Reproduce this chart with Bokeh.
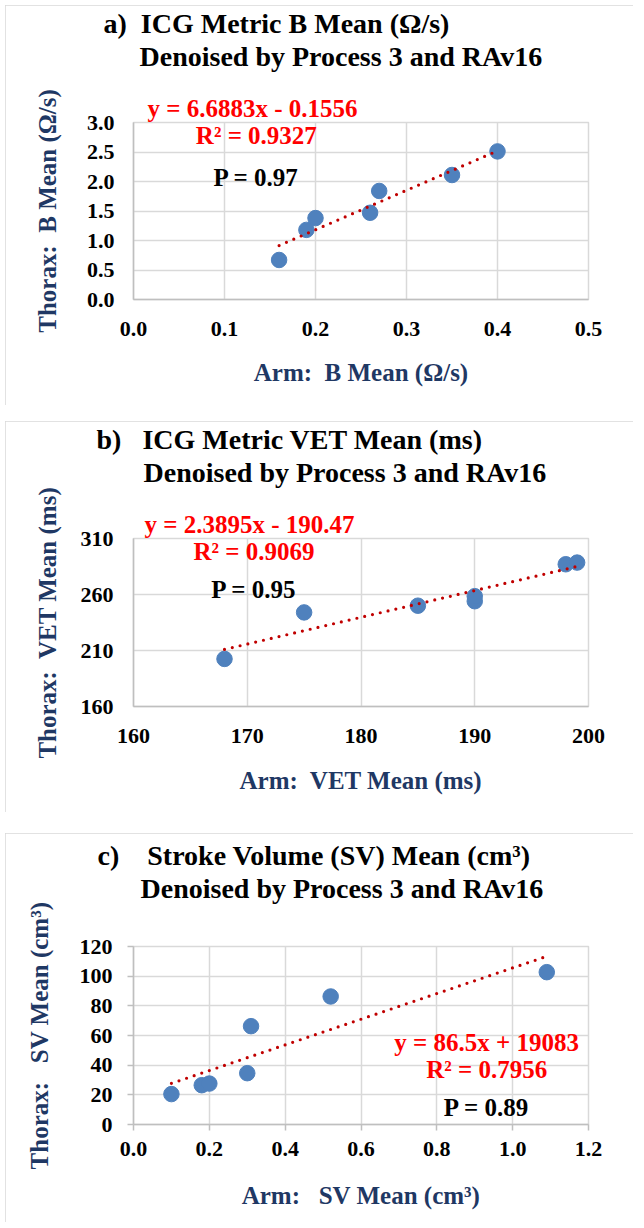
from bokeh.plotting import figure
from bokeh.models import (FixedTicker, PrintfTickFormatter, Label, Title, Range1d)
from bokeh.layouts import column
from bokeh.embed import file_html
from bokeh.resources import INLINE

FONT = "Liberation Serif"
NAVY = "#1F3864"
BLUE = "#4F81BD"
TREND = "#C00000"
GRID = "#D9D9D9"
NB = "\u00a0"

# ---------------- data ----------------
# a) ICG Metric B Mean
a_arm = [0.16, 0.19, 0.20, 0.26, 0.27, 0.35, 0.40]
a_thorax = [0.67, 1.18, 1.38, 1.47, 1.84, 2.11, 2.51]
a_xticks = [0.0, 0.1, 0.2, 0.3, 0.4, 0.5]
a_yticks = [0.0, 0.5, 1.0, 1.5, 2.0, 2.5, 3.0]
a_slope = 6.6883
a_intercept = -0.1556
a_texts = ["y = 6.6883x - 0.1556", "R² = 0.9327", "P = 0.97"]

# b) ICG Metric VET Mean
b_arm = [168, 175, 185, 190, 190, 198, 199]
b_thorax = [202.5, 244, 250, 254, 258.5, 287, 288.5]
b_xticks = [160, 170, 180, 190, 200]
b_yticks = [160, 210, 260, 310]
b_slope = 2.3895
b_intercept = -190.47
b_texts = ["y = 2.3895x - 190.47", "R² = 0.9069", "P = 0.95"]

# c) Stroke Volume Mean
c_arm = [0.10, 0.18, 0.20, 0.30, 0.31, 0.52, 1.09]
c_thorax = [20.5, 26.5, 27.6, 34.6, 66.3, 86.3, 102.7]
c_xticks = [0.0, 0.2, 0.4, 0.6, 0.8, 1.0, 1.2]
c_yticks = [0, 20, 40, 60, 80, 100, 120]
c_slope = 86.5
c_intercept = 19.083
c_texts = ["y = 86.5x + 19083", "R² = 0.7956", "P = 0.89"]


def title(text, size, offset, standoff):
    return Title(text=text, align="left", offset=offset, standoff=standoff,
                 text_font=FONT, text_font_size=size, text_font_style="bold",
                 text_color="black")


def make_panel(xs, ys, xticks, yticks, slope, intercept, texts, text_pos,
               eq_in_title, eq_offset, xfmt, yfmt, titles, title_offsets,
               spacer, xlabel, ylabel, height, borders, top_margin, tick_out,
               xstand, ystand, lab_stand):
    p = figure(width=628, height=height, output_backend="svg",
               toolbar_location=None,
               x_range=Range1d(xticks[0], xticks[-1]),
               y_range=Range1d(yticks[0], yticks[-1]),
               min_border_top=borders[0], min_border_right=borders[1],
               min_border_bottom=borders[2], min_border_left=borders[3],
               margin=(top_margin, 0, 0, 5),
               styles={"outline": "2px solid #D9D9D9", "outline-offset": "-2px"})
    p.background_fill_color = "white"
    p.border_fill_color = "white"
    p.outline_line_color = GRID
    p.outline_line_width = 1.5

    for ax, ticks, fmt, stand in ((p.xaxis, xticks, xfmt, xstand),
                                  (p.yaxis, yticks, yfmt, ystand)):
        ax.ticker = FixedTicker(ticks=ticks)
        ax.formatter = PrintfTickFormatter(format=fmt)
        ax.axis_line_color = "#BFBFBF"
        ax.axis_line_width = 1.5
        ax.major_tick_out = tick_out
        ax.major_tick_in = 0
        ax.minor_tick_out = 0
        ax.minor_tick_in = 0
        ax.major_tick_line_color = "#BFBFBF"
        ax.major_tick_line_width = 1.5
        ax.major_label_text_font = FONT
        ax.major_label_text_font_size = "22px"
        ax.major_label_text_font_style = "bold"
        ax.major_label_text_color = "black"
        ax.major_label_standoff = stand
        ax.axis_label_text_font = FONT
        ax.axis_label_text_font_size = "25px"
        ax.axis_label_text_font_style = "bold"
        ax.axis_label_text_color = NAVY
    p.xaxis.axis_label = xlabel
    p.yaxis.axis_label = ylabel
    p.xaxis.axis_label_standoff = lab_stand[0]
    p.yaxis.axis_label_standoff = lab_stand[1]

    p.xgrid.ticker = FixedTicker(ticks=xticks)
    p.ygrid.ticker = FixedTicker(ticks=yticks)
    p.grid.grid_line_color = GRID
    p.grid.grid_line_width = 1.5

    p.scatter(xs, ys, size=15.5, fill_color=BLUE, line_color=BLUE)
    tx = [min(xs), max(xs)]
    ty = [slope * v + intercept for v in tx]
    p.line(tx, ty, line_color=TREND, line_width=3.2, line_dash="0 8",
           line_cap="round")

    colors = ["#FF0000", "#FF0000", "black"]
    start = 0
    if eq_in_title:
        eq = Title(text=texts[0], align="left", offset=eq_offset, standoff=2,
                   text_font=FONT, text_font_size="25px",
                   text_font_style="bold", text_color="#FF0000")
        p.add_layout(eq, "above")
        start = 1
    for t, (x, y), col in list(zip(texts, text_pos, colors))[start:]:
        p.add_layout(Label(x=x, y=y, text=t, text_font=FONT,
                           text_font_size="25px", text_font_style="bold",
                           text_color=col, text_align="center",
                           text_baseline="middle"))

    # spacing between the plot area and the two-line title
    p.add_layout(Title(text=" ", text_font_size="1px", standoff=spacer), "above")
    p.add_layout(title(titles[1], "28px", title_offsets[1], 0), "above")
    p.add_layout(title(titles[0], "28px", title_offsets[0], 0), "above")
    return p


pa = make_panel(a_arm, a_thorax, a_xticks, a_yticks, a_slope, a_intercept,
                a_texts, [None, (0.135, 2.78), (0.135, 2.07)], True, 14,
                "%.1f", "%.1f",
                ["a)" + NB + " ICG Metric B Mean (Ω/s)", "Denoised by Process 3 and RAv16"],
                [-30, 6], 17, "Arm:" + NB + " B Mean (Ω/s)",
                "Thorax:" + NB + " B Mean (Ω/s)",
                400, (110, 45, 106, 119), 5, 0, 22, 19, (20, 23))

pb = make_panel(b_arm, b_thorax, b_xticks, b_yticks, b_slope, b_intercept,
                b_texts, [None, (170.6, 298.0), (170.6, 264.7)], True, 11,
                "%d", "%d",
                ["b)" + NB * 2 + " ICG Metric VET Mean (ms)", "Denoised by Process 3 and RAv16"],
                [-37, 10], 17, "Arm:" + NB + " VET Mean (ms)",
                "Thorax:" + NB + " VET Mean (ms)",
                391, (110, 42, 106, 128), 16, 0, 22, 20, (21, 17))

pc = make_panel(c_arm, c_thorax, c_xticks, c_yticks, c_slope, c_intercept,
                c_texts, [(0.9316, 55.5), (0.9316, 37.1), (0.9316, 11.7)],
                False, 0, "%.1f", "%d",
                ["c)" + NB * 3 + " Stroke Volume (SV) Mean (cm³)", "Denoised by Process 3 and RAv16"],
                [-36, 7], 40, "Arm:" + NB * 2 + " SV Mean (cm³)",
                "Thorax:" + NB * 2 + " SV Mean (cm³)",
                389, (113, 38, 98, 127), 21, 6, 11, 15, (23, 24))

layout = column(pa, pb, pc, spacing=0)
open("out.html", "w").write(file_html(layout, INLINE))
